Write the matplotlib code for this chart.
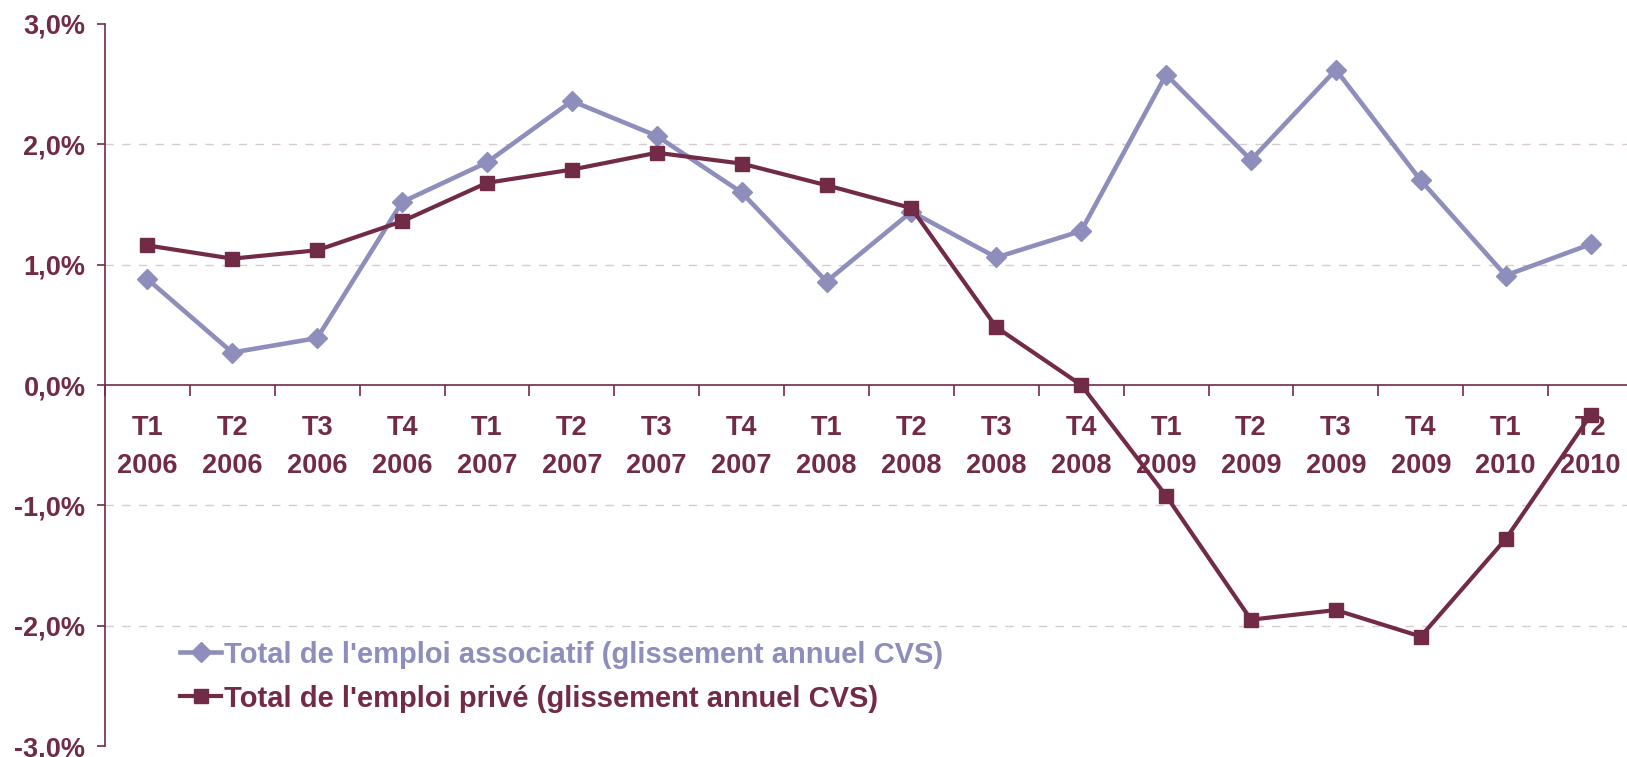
import matplotlib
matplotlib.use("Agg")
import matplotlib.pyplot as plt
from matplotlib.ticker import FixedLocator

# quarters and values (annual change, %)
quarters = ["T1\n2006", "T2\n2006", "T3\n2006", "T4\n2006",
            "T1\n2007", "T2\n2007", "T3\n2007", "T4\n2007",
            "T1\n2008", "T2\n2008", "T3\n2008", "T4\n2008",
            "T1\n2009", "T2\n2009", "T3\n2009", "T4\n2009",
            "T1\n2010", "T2\n2010"]
emploi_associatif = [0.88, 0.27, 0.39, 1.52, 1.85, 2.36, 2.07, 1.60, 0.86,
                     1.44, 1.06, 1.28, 2.58, 1.87, 2.62, 1.70, 0.91, 1.17]
emploi_prive = [1.16, 1.05, 1.12, 1.36, 1.68, 1.79, 1.93, 1.84, 1.66,
                1.47, 0.48, 0.00, -0.92, -1.95, -1.87, -2.09, -1.28, -0.25]
y_ticks = [-3, -2, -1, 0, 1, 2, 3]

MAROON = "#722B46"
LAVENDER = "#8E8EBC"
GRID = "#D8CBD0"

plt.rcParams['font.family'] = ['Liberation Sans', 'DejaVu Sans']

fig = plt.figure(figsize=(16.27, 7.57), dpi=100)
ax = fig.add_axes([0.0645, 0.0145, 0.9392, 0.9538])

x = list(range(len(quarters)))
ax.plot(x, emploi_associatif, color=LAVENDER, lw=3.3, marker="D", ms=10,
        label="Total de l'emploi associatif (glissement annuel CVS)", zorder=3)
ax.plot(x, emploi_prive, color=MAROON, lw=3, marker="s", ms=10,
        label="Total de l'emploi privé (glissement annuel CVS)", zorder=4)

ax.set_xlim(-0.5, len(quarters) - 0.5)
ax.set_ylim(-3, 3)

# axes styling
for s in ["top", "right"]:
    ax.spines[s].set_visible(False)
ax.spines["left"].set_color(MAROON)
ax.spines["left"].set_linewidth(1.2)
ax.spines["bottom"].set_position(("data", 0))
ax.spines["bottom"].set_color(MAROON)
ax.spines["bottom"].set_linewidth(1.2)
ax.spines["bottom"].set_zorder(2)

ax.set_yticks(y_ticks)
ax.set_yticklabels([f"{v:.1f}%".replace(".", ",") for v in y_ticks])
ax.tick_params(axis="y", direction="out", length=6, width=1.2, color=MAROON,
               labelcolor=MAROON, labelsize=19.5, pad=8)
for lab in ax.get_yticklabels():
    lab.set_fontweight("bold")

ax.set_xticks(x)
ax.set_xticklabels(quarters, fontsize=19.5, fontweight="bold", color=MAROON,
                   linespacing=1.6)
ax.xaxis.set_minor_locator(FixedLocator([i - 0.5 for i in range(len(quarters) + 1)]))
ax.tick_params(axis="x", which="major", length=0, pad=21.5)
ax.tick_params(axis="x", which="minor", direction="out", length=8, width=1.2,
               color=MAROON)

for v in [-2, -1, 1, 2]:
    ax.axhline(v, color=GRID, lw=1, ls=(0, (6, 6)), zorder=1)

leg = ax.legend(loc="lower left", bbox_to_anchor=(0.032, 0.01), frameon=False,
                prop={"size": 21, "weight": "bold"},
                handlelength=1.4, handletextpad=0.1, labelspacing=0.55)
for txt, c in zip(leg.get_texts(), [LAVENDER, MAROON]):
    txt.set_color(c)

fig.savefig("out.png", dpi=100)
